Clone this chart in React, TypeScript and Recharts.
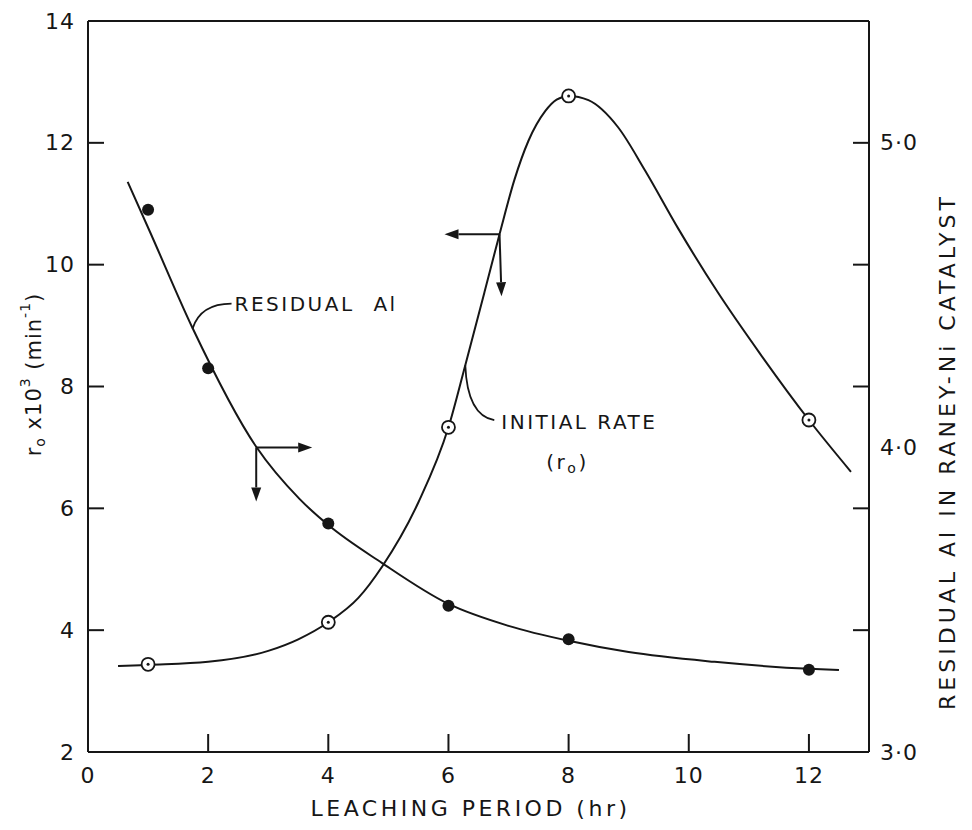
import { ComposedChart, Line, Scatter, XAxis, YAxis, ReferenceDot } from "recharts"

// measured points
const sampleHours = [1, 2, 4, 6, 8, 12]
const residualAl = [4.78, 4.26, 3.75, 3.48, 3.37, 3.27]
const rateHours = [1, 4, 6, 8, 12]
const initialRate = [3.44, 4.13, 7.33, 12.77, 7.45]

// hand-drawn smooth curves through the points
const rateCurveHours = [0.5, 1, 2, 3, 3.5, 4, 4.5, 4.9, 5.5, 6, 6.28, 6.6, 6.85, 7.1, 7.33, 7.61, 7.8, 8, 8.33, 8.82, 9.27, 9.82, 10.48, 11.2, 12, 12.7]
const rateCurve = [3.41, 3.43, 3.48, 3.66, 3.85, 4.13, 4.53, 5.05, 6.1, 7.33, 8.35, 9.55, 10.5, 11.4, 12.03, 12.52, 12.71, 12.77, 12.7, 12.26, 11.55, 10.6, 9.55, 8.52, 7.45, 6.6]
const alCurveHours = [0.66, 1.04, 1.74, 2.8, 3.52, 4, 4.89, 6, 7, 8, 9, 10.43, 12, 12.5]
const alCurve = [4.872, 4.704, 4.392, 4.002, 3.831, 3.745, 3.621, 3.486, 3.414, 3.365, 3.328, 3.296, 3.273, 3.269]

// axis ticks
const xTicks = [0, 2, 4, 6, 8, 10, 12]
const topTicks = [2, 4, 6, 8, 10, 12]
const leftTicks = [2, 4, 6, 8, 10, 12, 14]
const rightTickMarks = [3.4, 3.8, 4.2, 4.6, 5.0]
const rightTickLabels = [3, 4, 5]

const zip = (xs: number[], ys: number[]) => xs.map((x, i) => ({ x, y: ys[i] }))

const alPoints = zip(sampleHours, residualAl)
const ratePoints = zip(rateHours, initialRate)
const alLine = zip(alCurveHours, alCurve)
const rateLine = zip(rateCurveHours, rateCurve)
const rightTicks = [...rightTickLabels, ...rightTickMarks].filter((v, i, a) => a.indexOf(v) === i).sort((a, b) => a - b)

const INK = "#161616"
const FONT = "'DejaVu Sans', sans-serif"
const TICK_LEN = 16

const textStyle = { fontFamily: FONT, fontSize: 22, fill: INK, letterSpacing: 1 }
const noteStyle = { fontFamily: FONT, fontSize: 20, fill: INK, letterSpacing: 2.5 }

function LeftTick({ x, y, payload }: any) {
  const v = payload.value
  const inner = v !== leftTicks[0] && v !== leftTicks[leftTicks.length - 1]
  return (
    <g>
      {inner && <line x1={x} x2={x + TICK_LEN} y1={y} y2={y} stroke={INK} strokeWidth={2} />}
      <text x={x - 13} y={y} textAnchor="end" dominantBaseline="central" style={textStyle}>{v}</text>
    </g>
  )
}

function BottomTick({ x, y, payload }: any) {
  const v = payload.value
  return (
    <g>
      {v !== 0 && <line x1={x} x2={x} y1={y} y2={y - TICK_LEN - 2} stroke={INK} strokeWidth={2} />}
      <text x={x} y={y + 23} textAnchor="middle" dominantBaseline="central" style={textStyle}>{v}</text>
    </g>
  )
}

function TopTick({ x, y }: any) {
  return <line x1={x} x2={x} y1={y} y2={y + TICK_LEN + 2} stroke={INK} strokeWidth={2} />
}

function RightTick({ x, y, payload }: any) {
  const v = payload.value
  const mark = rightTickMarks.includes(v)
  const label = rightTickLabels.includes(v)
  return (
    <g>
      {mark && <line x1={x} x2={x - TICK_LEN} y1={y} y2={y} stroke={INK} strokeWidth={2} />}
      {label && (
        <text x={x + 11} y={y} dominantBaseline="central" style={textStyle}>
          {v.toFixed(1).replace(".", "·")}
        </text>
      )}
    </g>
  )
}

const XTitle = (props: any) => {
  const vb = props.viewBox ?? { x: 0, y: 0, width: 0, height: 0 }
  return (
    <text x={vb.x + vb.width / 2 - 8} y={vb.y + 56} textAnchor="middle" dominantBaseline="central"
      style={{ ...textStyle, letterSpacing: 3.5 }}>
      LEACHING PERIOD (hr)
    </text>
  )
}

const LeftTitle = (props: any) => {
  const vb = props.viewBox ?? { x: 0, y: 0, width: 0, height: 0 }
  const cx = vb.x + 6
  const cy = vb.y + vb.height / 2 - 12
  return (
    <text x={cx} y={cy} transform={`rotate(-90 ${cx} ${cy})`} textAnchor="middle" dominantBaseline="central"
      style={{ ...textStyle, fontSize: 21 }}>
      r<tspan dy={6} fontSize={14}>o</tspan>
      <tspan dy={-6}> x10</tspan>
      <tspan dy={-9} fontSize={14}>3</tspan>
      <tspan dy={9}>  (min</tspan>
      <tspan dy={-9} fontSize={14}>-1</tspan>
      <tspan dy={9}>)</tspan>
    </text>
  )
}

const RightTitle = (props: any) => {
  const vb = props.viewBox ?? { x: 0, y: 0, width: 0, height: 0 }
  const cx = vb.x + 78
  const cy = vb.y + vb.height / 2 + 65
  return (
    <text x={cx} y={cy} transform={`rotate(-90 ${cx} ${cy})`} textAnchor="middle" dominantBaseline="central"
      style={{ ...textStyle, fontSize: 22, letterSpacing: 4 }}>
      RESIDUAL Al IN RANEY-Ni CATALYST
    </text>
  )
}

const FilledDot = ({ cx, cy }: any) => <circle cx={cx} cy={cy} r={6} fill={INK} />

const OpenDot = ({ cx, cy }: any) => (
  <g>
    <circle cx={cx} cy={cy} r={6.5} fill="#fff" stroke={INK} strokeWidth={1.8} />
    <circle cx={cx} cy={cy} r={1.5} fill={INK} />
  </g>
)

// arrow from (x1,y1) to (x2,y2) with a filled head at the end
const Arrow = ({ x1, y1, x2, y2 }: any) => {
  const a = Math.atan2(y2 - y1, x2 - x1)
  const L = 14
  const W = 5
  const bx = x2 - L * Math.cos(a)
  const by = y2 - L * Math.sin(a)
  const px = -Math.sin(a) * W
  const py = Math.cos(a) * W
  return (
    <g>
      <line x1={x1} y1={y1} x2={bx} y2={by} stroke={INK} strokeWidth={2} />
      <polygon points={`${x2},${y2} ${bx + px},${by + py} ${bx - px},${by - py}`} fill={INK} />
    </g>
  )
}

// arrows pointing to the axis each curve belongs to
const AlArrows = ({ cx, cy }: any) => (
  <g>
    <Arrow x1={cx} y1={cy} x2={cx + 56} y2={cy} />
    <Arrow x1={cx} y1={cy} x2={cx} y2={cy + 54} />
  </g>
)

const RateArrows = ({ cx, cy }: any) => (
  <g>
    <Arrow x1={cx} y1={cy} x2={cx - 55} y2={cy} />
    <Arrow x1={cx} y1={cy} x2={cx + 2} y2={cy + 62} />
  </g>
)

const AlNote = ({ cx, cy }: any) => (
  <g>
    <path d={`M ${cx} ${cy} Q ${cx + 8} ${cy - 25} ${cx + 39} ${cy - 25}`} fill="none" stroke={INK} strokeWidth={1.8} />
    <text x={cx + 42} y={cy - 25} dominantBaseline="central" style={noteStyle}>
      RESIDUAL <tspan dx={10}>Al</tspan>
    </text>
  </g>
)

const RateNote = ({ cx, cy }: any) => (
  <g>
    <path d={`M ${cx} ${cy} Q ${cx + 2} ${cy + 50} ${cx + 29} ${cy + 55}`} fill="none" stroke={INK} strokeWidth={1.8} />
    <text x={cx + 36} y={cy + 57} dominantBaseline="central" style={noteStyle}>INITIAL RATE</text>
    <text x={cx + 81} y={cy + 97} dominantBaseline="central" style={noteStyle}>
      (r<tspan dy={6} fontSize={14}>o</tspan><tspan dy={-6}>)</tspan>
    </text>
  </g>
)

export default function App() {
  return (
    <div style={{ background: "#fff", width: 956, height: 814 }}>
      <ComposedChart width={956} height={814} margin={{ top: 12, right: 35, bottom: 10, left: 20 }}>
        <XAxis dataKey="x" type="number" domain={[0, 13]} ticks={xTicks} interval={0} height={60}
          axisLine={{ stroke: INK, strokeWidth: 2 }} tickLine={false} tickSize={0} tickMargin={0}
          tick={<BottomTick />} label={<XTitle />} />
        <XAxis xAxisId="top" orientation="top" dataKey="x" type="number" domain={[0, 13]} ticks={topTicks}
          interval={0} height={1} axisLine={{ stroke: INK, strokeWidth: 2 }} tickLine={false} tickSize={0}
          tickMargin={0} tick={<TopTick />} />
        <YAxis yAxisId="left" type="number" domain={[2, 14]} ticks={leftTicks} interval={0} width={60}
          axisLine={{ stroke: INK, strokeWidth: 2 }} tickLine={false} tickSize={0} tickMargin={0}
          tick={<LeftTick />} label={<LeftTitle />} />
        <YAxis yAxisId="right" orientation="right" type="number" domain={[3, 5.4]} ticks={rightTicks}
          interval={0} width={60} axisLine={{ stroke: INK, strokeWidth: 2 }} tickLine={false} tickSize={0}
          tickMargin={0} tick={<RightTick />} label={<RightTitle />} />

        <Line data={alLine} dataKey="y" yAxisId="right" type="monotone" stroke={INK} strokeWidth={2}
          dot={false} activeDot={false} isAnimationActive={false} />
        <Line data={rateLine} dataKey="y" yAxisId="left" type="monotone" stroke={INK} strokeWidth={2}
          dot={false} activeDot={false} isAnimationActive={false} />

        <Scatter data={alPoints} dataKey="y" yAxisId="right" shape={<FilledDot />} isAnimationActive={false} />
        <Scatter data={ratePoints} dataKey="y" yAxisId="left" shape={<OpenDot />} isAnimationActive={false} />

        <ReferenceDot x={2.8} y={4.0} yAxisId="right" r={0} shape={<AlArrows />} />
        <ReferenceDot x={6.85} y={10.5} yAxisId="left" r={0} shape={<RateArrows />} />
        <ReferenceDot x={1.74} y={4.39} yAxisId="right" r={0} shape={<AlNote />} />
        <ReferenceDot x={6.28} y={8.35} yAxisId="left" r={0} shape={<RateNote />} />
      </ComposedChart>
    </div>
  )
}
